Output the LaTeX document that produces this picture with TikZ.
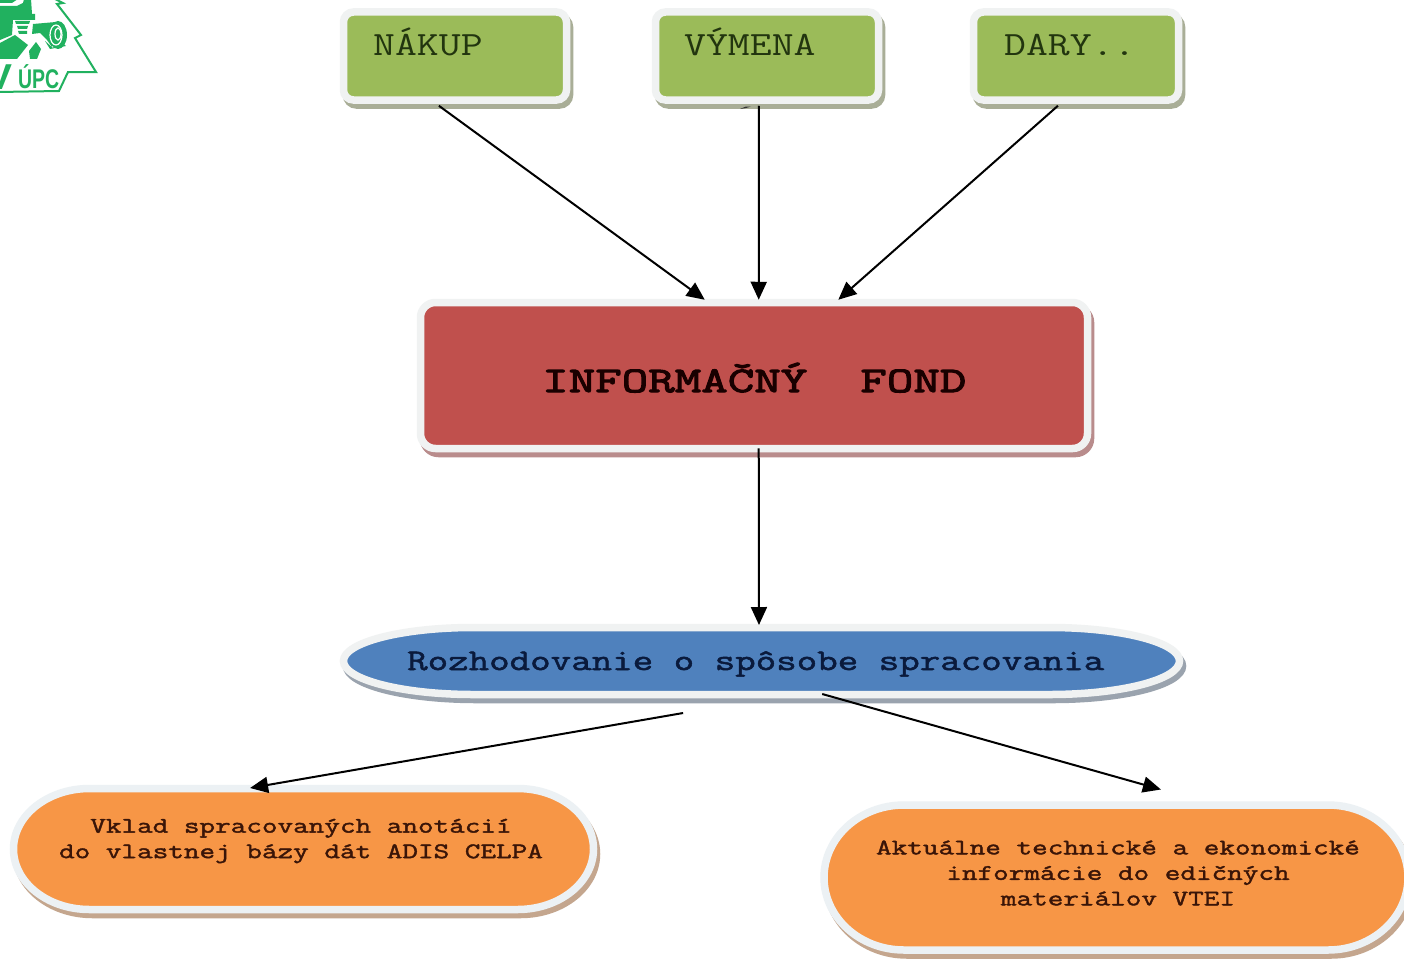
\documentclass[tikz,border=0pt]{standalone}
\usepackage{fontspec}
\usetikzlibrary{arrows.meta,calc,shadows}
\newfontfamily\monoA{Latin Modern Mono}[FakeStretch=1.25]
\newfontfamily\monoB{Latin Modern Mono}[FakeStretch=1.43,FakeBold=3.2]
\newfontfamily\monoC{Latin Modern Mono}[FakeStretch=1.327,FakeBold=1.8]
\newfontfamily\monoD{Latin Modern Mono}[FakeStretch=1.365,FakeBold=1.8]
\newfontfamily\logoF{Liberation Sans}[FakeStretch=0.72]
\definecolor{frameC}{HTML}{F0F2F2}
\definecolor{frameO}{HTML}{ECF1F4}
\definecolor{greenF}{HTML}{9BBB59}
\definecolor{redF}{HTML}{C0504D}
\definecolor{blueF}{HTML}{4F81BD}
\definecolor{orangeF}{HTML}{F79646}
\definecolor{greenS}{HTML}{A9AE97}
\definecolor{redS}{HTML}{B98C8C}
\definecolor{blueS}{HTML}{9AA3AE}
\definecolor{orangeS}{HTML}{C4A68E}
\definecolor{logoG}{HTML}{21B15F}
\definecolor{inkG}{HTML}{22350F}
\definecolor{inkB}{HTML}{0A1A3C}
\definecolor{inkO}{HTML}{3A1508}
\tikzset{
  box/.style args={#1/#2/#3/#4}{rectangle,rounded corners=#3,inner sep=0pt,fill=#1,
    draw=frameC,line width=7.5pt,
    general shadow={fill=#2,draw=#2,line width=7.5pt,shadow xshift=3pt,shadow yshift=-5pt}},
  anchorbox/.style={rectangle,inner sep=0pt,outer sep=0pt},
  flow/.style={draw=black,line width=2pt,-{Triangle[length=18pt,width=16pt]}},
  tagA/.style={font=\monoA\fontsize{34}{34}\selectfont,text=inkG,anchor=base west,inner sep=0pt},
  tagB/.style={font=\monoB\fontsize{36}{36}\selectfont,text=black!90!red,anchor=base west,inner sep=0pt},
  tagC/.style={font=\monoC\fontsize{30}{30}\selectfont,text=inkB,anchor=base west,inner sep=0pt},
  tagD/.style={font=\monoD\fontsize{22.2}{25.5}\selectfont,text=inkO,align=center,inner sep=0pt},
  logoP/.style={fill=logoG,draw=none},
}
\newcommand\capsule[7]{% fill, frame, shadow, L, T, R, B ; a is \capA
  \pgfmathsetmacro\xa{#4+\capA}\pgfmathsetmacro\xb{#6-\capA}
  \pgfmathsetmacro\ym{(#5+#7)/2}\pgfmathsetmacro\kx{.5523*\capA}
  \pgfmathsetmacro\ky{.5523*(#7-#5)/2}
  \def\capsulepath{(#4,\ym) .. controls (#4,\ym-\ky) and (\xa-\kx,#5) .. (\xa,#5)
    -- (\xb,#5) .. controls (\xb+\kx,#5) and (#6,\ym-\ky) .. (#6,\ym)
    .. controls (#6,\ym+\ky) and (\xb+\kx,#7) .. (\xb,#7)
    -- (\xa,#7) .. controls (\xa-\kx,#7) and (#4,\ym+\ky) .. (#4,\ym) -- cycle}
  \begin{scope}[shift={(3,5)}]
    \path[fill=#3,draw=#3,line width=7.5pt] \capsulepath;
  \end{scope}
  \path[fill=#1,draw=#2,line width=7.5pt] \capsulepath;
}
\begin{document}
\begin{tikzpicture}[x=1pt,y=-1pt]
\clip (0,0) rectangle (1404,958);
\fill[white] (0,0) rectangle (1404,958);
% logo
\draw[logoG,line width=2pt,line join=miter] (55,-1) -- (63,3) -- (57,4) -- (81,35) -- (75,38) -- (96,72) -- (68,72) -- (59,91) -- (-2,92);
\path[logoP] (0,-1) -- (18,-1) -- (12,3) -- (0,3) -- cycle;
\path[logoP] (0,6) -- (17,6) -- (23,3) -- (24,-1) -- (31,-1) -- (32,14) -- (35,14) -- (35,20) -- (13,20) -- (12,35) -- (0,40) -- cycle;
\path[logoP] (15,21) -- (30,21) -- (29,24) -- (16,24) -- cycle;
\path[logoP] (17,26) -- (28,26) -- (27,29) -- (18,29) -- cycle;
\path[logoP] (18,31) -- (27,31) -- (27,34) -- (19,34) -- cycle;
\path[logoP] (0,43) -- (15,35) -- (28,45) -- (17,59) -- (0,59) -- cycle;
\path[logoP] (30,59) -- (29,51) -- (36,42) -- (41,49) -- (37,59) -- cycle;
\path[logoP] (33,24) -- (56,22) -- (62,24) -- (52,47) -- (47,40) -- (40,33) -- (32,34) -- cycle;
\path[logoP] (45,41) -- (53,48) -- (58,40) -- (66,46) -- (50,49) -- cycle;
\fill[logoG] (58,35) ellipse [x radius=9,y radius=14];
\draw[white,line width=1.2pt] (56,35) ellipse [x radius=6,y radius=10];
\draw[white,line width=1.2pt] (58,34) ellipse [x radius=3,y radius=6];
\node[font=\logoF\bfseries\fontsize{27}{27}\selectfont,text=logoG,anchor=base west,inner sep=0pt] (logotext) at (18,88) {ÚPC};
\node[font=\logoF\bfseries\fontsize{36}{36}\selectfont,text=logoG,inner sep=0pt,anchor=base] (logov) at (-1,89) {\scalebox{1.5}[1]{V}};

% boxes
\node[box=greenF/greenS/10pt/0,minimum width=223pt,minimum height=88pt] (nakup) at (455,56) {};
\node[box=greenF/greenS/10pt/0,minimum width=223pt,minimum height=88pt] (vymena) at (767,56) {};
\node[box=greenF/greenS/10pt/0,minimum width=205pt,minimum height=88pt] (dary) at (1076,56) {};
\node[box=redF/redS/15pt/0,minimum width=667pt,minimum height=146pt] (fond) at (754,375.5) {};

\def\capA{130}\capsule{blueF}{frameC}{blueS}{343.5}{627.5}{1179.5}{694.5}
\def\capA{76}\capsule{orangeF}{frameO}{orangeS}{13.5}{788.5}{593.5}{909.5}
\def\capA{80}\capsule{orangeF}{frameO}{orangeS}{824}{805}{1408}{950}

\node[anchorbox,minimum width=843pt,minimum height=74pt] (rozh) at (761.5,661) {};
\node[anchorbox,minimum width=587pt,minimum height=128pt] (vklad) at (303.5,849) {};
\node[anchorbox,minimum width=591pt,minimum height=152pt] (aktual) at (1116,877.5) {};

% labels
\node[tagA] (tnakup) at (373,56) {NÁKUP};
\node[tagA] (tvymena) at (684,56) {VÝMENA};
\node[tagA] (tdary) at (1004,56) {DARY..};
\node[tagB] (tfond) at (542,392) {INFORMAČNÝ\ \ FOND};
\node[tagC] (trozh) at (407,670) {Rozhodovanie o spôsobe spracovania};
\node[tagD] (tvklad) at (301,841) {Vklad spracovaných anotácií\\do vlastnej bázy dát ADIS CELPA};
\node[tagD] (taktual) at (1118,873) {Aktuálne technické a ekonomické\\informácie do edičných\\materiálov VTEI};

% connectors
\draw[flow] ($(nakup.south west)!.43!(nakup.south east)+(0,2)$) -- ($(fond.north west)!.427!(fond.north east)+(0,1)$);
\draw[flow] ($(vymena.south west)!.465!(vymena.south east)+(0,2)$) -- ($(fond.north west)!.507!(fond.north east)+(0,1)$);
\draw[flow] ($(dary.south west)!.415!(dary.south east)+(0,2)$) -- ($(fond.north west)!.625!(fond.north east)+(0,1)$);
\draw[flow] ($(fond.south west)!.507!(fond.south east)+(0,-4)$) -- ($(rozh.north west)!.497!(rozh.north east)+(0,1)$);
\draw[flow] ($(rozh.south west)!.407!(rozh.south east)+(0,15)$) -- ($(vklad.north west)!.409!(vklad.north east)+(0,3)$);
\draw[flow] ($(rozh.south west)!.572!(rozh.south east)+(0,-4)$) -- ($(aktual.north west)!.576!(aktual.north east)+(0,-12)$);
\fill[black!80] (740,109) -- (746,106.5) -- (751,106.5) -- (746,108) -- cycle;
\end{tikzpicture}
\end{document}
